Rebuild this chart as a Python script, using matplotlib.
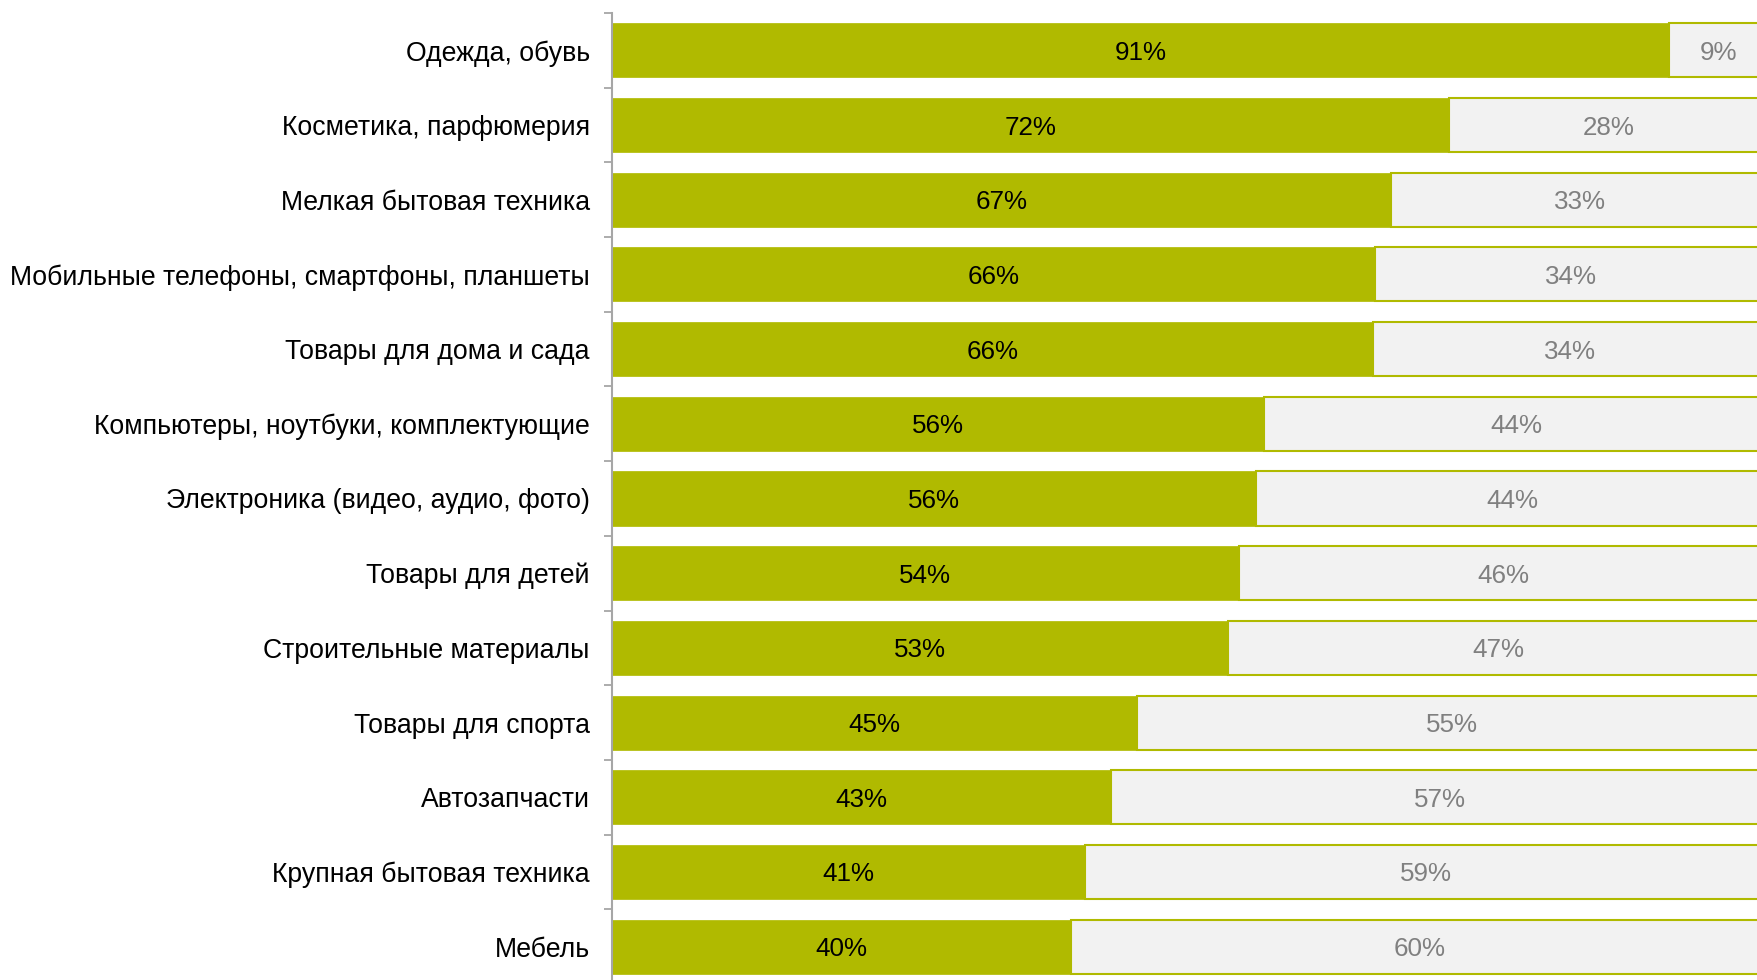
import matplotlib.pyplot as plt
import numpy as np

#%% Data

categories = ['Одежда, обувь', 'Косметика, парфюмерия', 'Мелкая бытовая техника',
              'Мобильные телефоны, смартфоны, планшеты', 'Товары для дома и сада',
              'Компьютеры, ноутбуки, комплектующие', 'Электроника (видео, аудио, фото)',
              'Товары для детей', 'Строительные материалы', 'Товары для спорта',
              'Автозапчасти', 'Крупная бытовая техника', 'Мебель']
share_yes = [91.4, 72.4, 67.4, 66.0, 65.8, 56.4, 55.7, 54.2, 53.3, 45.4, 43.2, 40.9, 39.7]
share_no = [8.6, 27.6, 32.6, 34.0, 34.2, 43.6, 44.3, 45.8, 46.7, 54.6, 56.8, 59.1, 60.3]

green = '#B0BA00'
light = '#F2F2F2'

#%% Plot

plt.rcParams['font.family'] = ['Liberation Sans', 'DejaVu Sans']
fig = plt.figure(figsize=(17.58, 9.80), dpi=100)
ax = fig.add_axes([612/1758, -4/980, 1156/1758, 971/980])

y = np.arange(len(categories))
h = 0.723
ax.barh(y, share_yes, height=h, color=green, edgecolor=green, linewidth=0.5)
ax.barh(y, share_no, left=share_yes, height=h, color=light, edgecolor=green, linewidth=1.5)

for i in range(len(categories)):
    ax.text(share_yes[i]/2, y[i], '%d%%' % round(share_yes[i]), ha='center', va='center_baseline',
            fontsize=18.7, color='black')
    ax.text(share_yes[i] + share_no[i]/2, y[i], '%d%%' % round(share_no[i]), ha='center',
            va='center_baseline', fontsize=18.7, color='#808080')

ax.set_xlim(0, 100)
ax.set_ylim(len(categories) - 0.5, -0.5)
ax.set_yticks(y)
ax.set_yticklabels(categories, fontsize=19.2, va='center_baseline')
ax.set_yticks(np.arange(-0.5, len(categories), 1), minor=True)
ax.tick_params(axis='y', which='major', length=0, pad=16)
ax.tick_params(axis='y', which='minor', length=6, width=1.3, color='#A6A6A6', direction='out')
ax.set_xticks([])
for s in ['top', 'right', 'bottom']:
    ax.spines[s].set_visible(False)
ax.spines['left'].set_color('#A6A6A6')
ax.spines['left'].set_linewidth(1.5)

plt.savefig('out.png', dpi=100)
